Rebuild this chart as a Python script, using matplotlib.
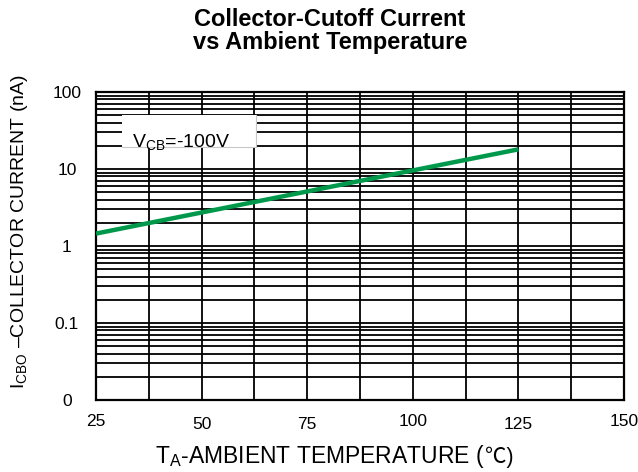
import matplotlib
matplotlib.use('Agg')
import matplotlib.pyplot as plt
from matplotlib.patches import Rectangle
from matplotlib.ticker import FixedLocator, NullFormatter

plt.rcParams['font.family'] = ['Liberation Sans', 'Noto Sans CJK SC', 'DejaVu Sans']
plt.rcParams['mathtext.fontset'] = 'custom'
plt.rcParams['mathtext.rm'] = 'Liberation Sans'
plt.rcParams['mathtext.it'] = 'Liberation Sans:italic'
plt.rcParams['mathtext.bf'] = 'Liberation Sans:bold'

# data
temp = [25, 125]          # T_A (degC)
icbo = [1.45, 18.0]       # I_CBO (nA)

xticks = [25, 50, 75, 100, 125, 150]
xticklabels = ['25', '50', '75', '100', '125', '150']
xminor = [37.5, 62.5, 87.5, 112.5, 137.5]
yticks = [0.01, 0.1, 1, 10, 100]
yticklabels = ['0', '0.1', '1', '10', '100']

fig = plt.figure(figsize=(6.38, 4.72), dpi=100)
ax = fig.add_axes([96 / 638, 72 / 472, 528 / 638, 308 / 472])

ax.set_yscale('log')
ax.set_xlim(25, 150)
ax.set_ylim(0.01, 100)

ax.set_xticks(xticks)
ax.set_xticklabels(xticklabels, fontsize=12.5)
ax.xaxis.set_minor_locator(FixedLocator(xminor))
ax.set_yticks(yticks)
ax.set_yticklabels(yticklabels, fontsize=12.5)
ax.yaxis.set_minor_locator(FixedLocator(
    [m * d for d in [0.01, 0.1, 1, 10] for m in range(2, 10)]))
ax.yaxis.set_minor_formatter(NullFormatter())

ax.tick_params(which='both', length=0)
for i, t in enumerate(ax.xaxis.get_major_ticks()):
    t.set_pad(10 if i in (0, 3, 5) else 12.5)
for t in ax.yaxis.get_major_ticks():
    t.set_pad(21)
    t.label1.set_horizontalalignment('center')

ax.grid(which='both', color='black', linewidth=1.3)
for s in ax.spines.values():
    s.set_linewidth(1.6)

ax.plot(temp, icbo, color='#00994C', linewidth=3.2, zorder=4, solid_capstyle='butt')

# condition box
ax.add_patch(Rectangle((0.049, 0.821), 0.254, 0.104, transform=ax.transAxes,
                       facecolor='white', edgecolor='none', zorder=2))
ax.plot([0.303, 0.303, 0.049], [0.925, 0.821, 0.821], transform=ax.transAxes,
        color='#c8c8c8', linewidth=0.8, zorder=2)
ax.text(0.068, 0.821, r'V$_{\mathrm{CB}}$=-100V', transform=ax.transAxes,
        fontsize=14, va='baseline', ha='left', zorder=3)

fig.text(330 / 638, 1 - 8 / 472, 'Collector-Cutoff Current\nvs Ambient Temperature',
         ha='center', va='top', fontsize=17, fontweight='bold', linespacing=1.02)

# x label: mathtext part + degree-C sign from a font that has it
renderer = fig.canvas.get_renderer()
xl_y = 9 / 472
part1 = fig.text(0, xl_y, r'T$_{\mathrm{A}}$-AMBIENT TEMPERATURE (',
                 ha='left', va='baseline', fontsize=16.5)
part2 = fig.text(0, xl_y, '℃)', ha='left', va='baseline', fontsize=15.5,
                 family=['Liberation Sans', 'Noto Sans CJK SC'])
w1 = part1.get_window_extent(renderer).width
w2 = part2.get_window_extent(renderer).width
x_left = 334 - (w1 + w2) / 2
part1.set_x(x_left / 638)
part2.set_x((x_left + w1) / 638)

fig.text(20 / 638, 1 - 232 / 472, r'I$_{\mathrm{CBO}}$ –COLLECTOR CURRENT (nA)',
         ha='center', va='center', rotation=90, fontsize=14)

fig.savefig('out.png', dpi=100)
